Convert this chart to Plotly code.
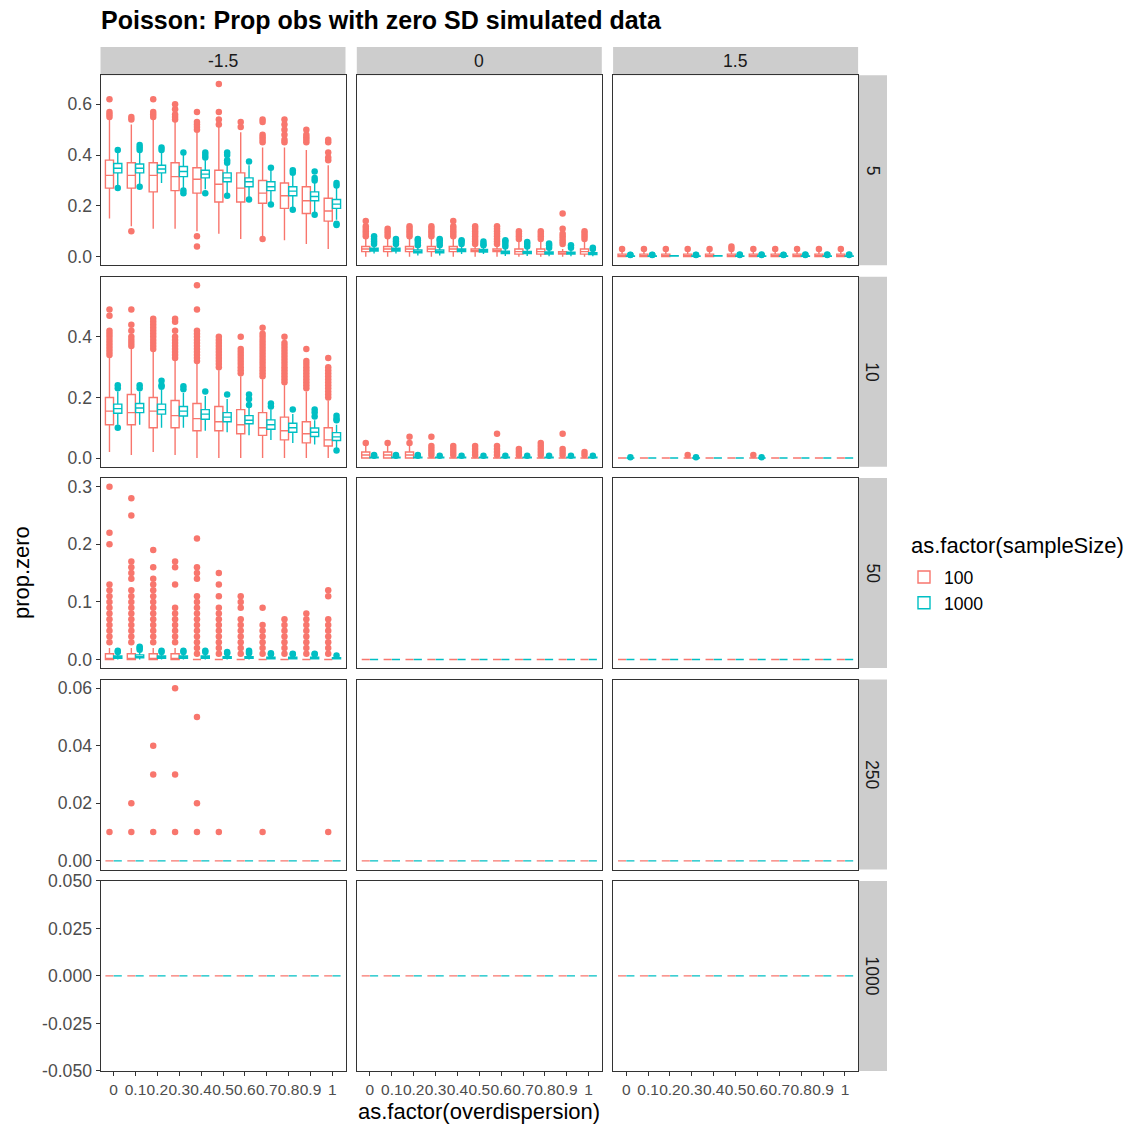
import plotly.graph_objects as go

# ---------------------------------------------------------------------------
# Factor levels
# ---------------------------------------------------------------------------
CATEGORIES = ["0", "0.1", "0.2", "0.3", "0.4", "0.5", "0.6", "0.7", "0.8", "0.9", "1"]
COL_LEVELS = ["-1.5", "0", "1.5"]
ROW_LEVELS = ["5", "10", "50", "250", "1000"]
GROUPS = ["100", "1000"]

# Box statistics per overdispersion level: (q1, median, q3, lower whisker, upper whisker)
# Outliers per overdispersion level as lists of prop.zero values.

# ---- row 5, column -1.5 ----
S5_NEG_100 = [
    (0.27, 0.32, 0.38, 0.15, 0.54),
    (0.27, 0.32, 0.37, 0.12, 0.52),
    (0.255, 0.32, 0.37, 0.11, 0.54),
    (0.26, 0.315, 0.37, 0.11, 0.53),
    (0.25, 0.305, 0.35, 0.10, 0.49),
    (0.215, 0.285, 0.34, 0.09, 0.51),
    (0.215, 0.27, 0.33, 0.07, 0.49),
    (0.21, 0.25, 0.30, 0.08, 0.43),
    (0.19, 0.24, 0.29, 0.065, 0.43),
    (0.17, 0.22, 0.275, 0.05, 0.42),
    (0.14, 0.18, 0.23, 0.03, 0.36),
]
O5_NEG_100 = [
    [0.55, 0.56, 0.57, 0.62],
    [0.10, 0.54, 0.55],
    [0.55, 0.56, 0.57, 0.62],
    [0.54, 0.55, 0.56, 0.58, 0.60],
    [0.04, 0.08, 0.50, 0.51, 0.52, 0.53, 0.57],
    [0.52, 0.54, 0.57, 0.68],
    [0.51, 0.53],
    [0.07, 0.45, 0.46, 0.47, 0.48, 0.53, 0.54],
    [0.45, 0.46, 0.48, 0.50, 0.52, 0.54],
    [0.45, 0.46, 0.47, 0.48, 0.50],
    [0.38, 0.39, 0.41, 0.45, 0.46],
]
S5_NEG_1000 = [
    (0.33, 0.348, 0.367, 0.28, 0.41),
    (0.33, 0.348, 0.365, 0.28, 0.41),
    (0.33, 0.345, 0.36, 0.29, 0.41),
    (0.315, 0.335, 0.355, 0.27, 0.40),
    (0.31, 0.325, 0.34, 0.265, 0.38),
    (0.295, 0.31, 0.33, 0.25, 0.36),
    (0.275, 0.295, 0.31, 0.235, 0.36),
    (0.26, 0.275, 0.295, 0.215, 0.34),
    (0.24, 0.258, 0.275, 0.19, 0.32),
    (0.22, 0.237, 0.255, 0.175, 0.29),
    (0.19, 0.207, 0.225, 0.145, 0.27),
]
O5_NEG_1000 = [
    [0.27, 0.42],
    [0.275, 0.42, 0.43, 0.44],
    [0.42, 0.43],
    [0.25, 0.26, 0.41],
    [0.25, 0.39, 0.40, 0.41],
    [0.24, 0.37, 0.38, 0.40, 0.41],
    [0.225, 0.375],
    [0.205, 0.35],
    [0.185, 0.33, 0.34],
    [0.165, 0.30, 0.31, 0.335],
    [0.125, 0.13, 0.28, 0.29],
]

# ---- row 5, column 0 ----
S5_MID_100 = [
    (0.02, 0.03, 0.04, 0.0, 0.07),
    (0.02, 0.03, 0.04, 0.0, 0.07),
    (0.02, 0.03, 0.04, 0.0, 0.07),
    (0.02, 0.03, 0.04, 0.0, 0.07),
    (0.02, 0.03, 0.04, 0.0, 0.07),
    (0.02, 0.02, 0.03, 0.0, 0.04),
    (0.02, 0.02, 0.03, 0.0, 0.04),
    (0.01, 0.02, 0.03, 0.0, 0.06),
    (0.01, 0.02, 0.03, 0.0, 0.06),
    (0.01, 0.01, 0.02, 0.0, 0.03),
    (0.01, 0.02, 0.03, 0.0, 0.06),
]
O5_MID_100 = [
    [0.08, 0.09, 0.10, 0.11, 0.12, 0.14],
    [0.08, 0.09, 0.10, 0.11],
    [0.08, 0.09, 0.10, 0.11, 0.12],
    [0.08, 0.09, 0.10, 0.11, 0.12],
    [0.08, 0.09, 0.10, 0.11, 0.12, 0.14],
    [0.05, 0.06, 0.07, 0.08, 0.09, 0.10, 0.11, 0.12],
    [0.05, 0.06, 0.07, 0.08, 0.09, 0.10, 0.11, 0.12],
    [0.07, 0.08, 0.09, 0.10],
    [0.07, 0.08, 0.09, 0.10],
    [0.05, 0.06, 0.07, 0.08, 0.09, 0.11, 0.17],
    [0.07, 0.08, 0.09, 0.10],
]
S5_MID_1000 = [
    (0.022, 0.027, 0.033, 0.012, 0.048),
    (0.022, 0.027, 0.033, 0.012, 0.048),
    (0.015, 0.020, 0.026, 0.005, 0.040),
    (0.015, 0.020, 0.026, 0.005, 0.040),
    (0.020, 0.025, 0.030, 0.010, 0.045),
    (0.018, 0.023, 0.028, 0.010, 0.040),
    (0.012, 0.017, 0.022, 0.003, 0.035),
    (0.012, 0.016, 0.021, 0.003, 0.034),
    (0.010, 0.014, 0.019, 0.002, 0.030),
    (0.010, 0.014, 0.018, 0.002, 0.030),
    (0.008, 0.012, 0.016, 0.002, 0.026),
]
O5_MID_1000 = [
    [0.05, 0.06, 0.07, 0.08],
    [0.05, 0.06, 0.07],
    [0.045, 0.055, 0.065, 0.07],
    [0.045, 0.055, 0.065, 0.07],
    [0.05, 0.06, 0.065],
    [0.045, 0.05, 0.06],
    [0.04, 0.05, 0.06, 0.065],
    [0.04, 0.05, 0.058],
    [0.035, 0.045, 0.052],
    [0.035, 0.045],
    [0.03, 0.035],
]

# ---- row 5, column 1.5 ----
S5_POS_100 = [
    (0.0, 0.0, 0.01, 0.0, 0.02),
    (0.0, 0.0, 0.01, 0.0, 0.02),
    (0.0, 0.0, 0.01, 0.0, 0.02),
    (0.0, 0.0, 0.01, 0.0, 0.02),
    (0.0, 0.0, 0.01, 0.0, 0.02),
    (0.0, 0.0, 0.01, 0.0, 0.02),
    (0.0, 0.0, 0.01, 0.0, 0.02),
    (0.0, 0.0, 0.01, 0.0, 0.02),
    (0.0, 0.0, 0.01, 0.0, 0.02),
    (0.0, 0.0, 0.01, 0.0, 0.02),
    (0.0, 0.0, 0.01, 0.0, 0.02),
]
O5_POS_100 = [[0.03], [0.03], [0.03], [0.03], [0.03], [0.03, 0.04],
              [0.03], [0.03], [0.03], [0.03], [0.03]]
S5_POS_1000 = [
    (0.001, 0.002, 0.003, 0.0, 0.006),
    (0.001, 0.002, 0.003, 0.0, 0.006),
    (0.002, 0.003, 0.004, 0.001, 0.005),
    (0.001, 0.002, 0.003, 0.0, 0.006),
    (0.002, 0.003, 0.004, 0.001, 0.005),
    (0.001, 0.002, 0.003, 0.0, 0.006),
    (0.001, 0.002, 0.003, 0.0, 0.006),
    (0.001, 0.002, 0.003, 0.0, 0.006),
    (0.001, 0.002, 0.003, 0.0, 0.006),
    (0.001, 0.002, 0.003, 0.0, 0.006),
    (0.001, 0.002, 0.003, 0.0, 0.006),
]
O5_POS_1000 = [[0.007, 0.008], [0.007, 0.008], [], [0.007, 0.008], [],
               [0.007, 0.009], [0.007, 0.009], [0.007, 0.008], [0.007, 0.009],
               [0.007, 0.009], [0.007, 0.009]]

# ---- row 10, column -1.5 ----
S10_NEG_100 = [
    (0.11, 0.155, 0.20, 0.02, 0.33),
    (0.11, 0.15, 0.21, 0.01, 0.36),
    (0.10, 0.155, 0.20, 0.02, 0.35),
    (0.10, 0.14, 0.19, 0.01, 0.32),
    (0.09, 0.13, 0.18, 0.00, 0.31),
    (0.09, 0.12, 0.17, 0.00, 0.29),
    (0.08, 0.11, 0.16, 0.00, 0.27),
    (0.075, 0.10, 0.15, 0.00, 0.26),
    (0.06, 0.09, 0.135, 0.00, 0.24),
    (0.05, 0.08, 0.12, 0.00, 0.22),
    (0.04, 0.06, 0.10, 0.00, 0.19),
]
O10_NEG_100 = [
    [0.34, 0.35, 0.36, 0.37, 0.38, 0.39, 0.40, 0.41, 0.42, 0.47, 0.49],
    [0.37, 0.38, 0.39, 0.40, 0.42, 0.44, 0.49],
    [0.36, 0.37, 0.38, 0.39, 0.40, 0.41, 0.42, 0.43, 0.44, 0.45, 0.46],
    [0.33, 0.34, 0.35, 0.36, 0.37, 0.38, 0.39, 0.40, 0.42, 0.45, 0.46],
    [0.32, 0.33, 0.34, 0.35, 0.36, 0.37, 0.38, 0.39, 0.40, 0.41, 0.42, 0.49, 0.57],
    [0.30, 0.31, 0.32, 0.33, 0.34, 0.35, 0.36, 0.37, 0.38, 0.39, 0.40],
    [0.28, 0.29, 0.30, 0.31, 0.32, 0.33, 0.34, 0.35, 0.36, 0.40],
    [0.27, 0.28, 0.29, 0.30, 0.31, 0.32, 0.33, 0.34, 0.35, 0.36, 0.37, 0.38,
     0.39, 0.40, 0.41, 0.43],
    [0.25, 0.26, 0.27, 0.28, 0.29, 0.30, 0.31, 0.32, 0.33, 0.34, 0.35, 0.36,
     0.37, 0.38, 0.40],
    [0.23, 0.24, 0.25, 0.26, 0.27, 0.28, 0.29, 0.30, 0.31, 0.32, 0.36],
    [0.20, 0.21, 0.22, 0.23, 0.24, 0.25, 0.26, 0.27, 0.28, 0.29, 0.30, 0.33],
]
S10_NEG_1000 = [
    (0.148, 0.163, 0.178, 0.11, 0.22),
    (0.15, 0.165, 0.18, 0.11, 0.22),
    (0.145, 0.16, 0.178, 0.10, 0.225),
    (0.139, 0.155, 0.17, 0.10, 0.215),
    (0.128, 0.145, 0.16, 0.09, 0.205),
    (0.12, 0.135, 0.15, 0.085, 0.195),
    (0.113, 0.125, 0.14, 0.075, 0.165),
    (0.095, 0.11, 0.126, 0.06, 0.16),
    (0.085, 0.10, 0.115, 0.05, 0.145),
    (0.071, 0.085, 0.099, 0.045, 0.125),
    (0.058, 0.07, 0.084, 0.03, 0.11),
]
O10_NEG_1000 = [
    [0.10, 0.23, 0.24],
    [0.23, 0.24],
    [0.235, 0.24, 0.255],
    [0.227, 0.237],
    [0.22],
    [0.21],
    [0.175, 0.195, 0.21],
    [0.17, 0.18],
    [0.16],
    [0.137, 0.15, 0.16],
    [0.025, 0.125, 0.13, 0.14],
]

# ---- row 10, column 0 ----
S10_MID_100 = [
    (0.0, 0.01, 0.02, 0.0, 0.04),
    (0.0, 0.01, 0.02, 0.0, 0.04),
    (0.0, 0.01, 0.02, 0.0, 0.04),
    (0.0, 0.0, 0.0, 0.0, 0.0),
    (0.0, 0.0, 0.0, 0.0, 0.0),
    (0.0, 0.0, 0.0, 0.0, 0.0),
    (0.0, 0.0, 0.0, 0.0, 0.0),
    (0.0, 0.0, 0.0, 0.0, 0.0),
    (0.0, 0.0, 0.0, 0.0, 0.0),
    (0.0, 0.0, 0.0, 0.0, 0.0),
    (0.0, 0.0, 0.0, 0.0, 0.0),
]
O10_MID_100 = [
    [0.05],
    [0.05],
    [0.05, 0.07],
    [0.01, 0.02, 0.03, 0.04, 0.07],
    [0.01, 0.02, 0.03, 0.04],
    [0.01, 0.02, 0.03, 0.04],
    [0.01, 0.02, 0.03, 0.04, 0.08],
    [0.01, 0.02, 0.03],
    [0.01, 0.02, 0.03, 0.04, 0.05],
    [0.01, 0.02, 0.03, 0.08],
    [0.01, 0.02],
]
S10_MID_1000 = [
    (0.001, 0.002, 0.003, 0.0, 0.006),
    (0.001, 0.002, 0.003, 0.0, 0.006),
    (0.001, 0.002, 0.003, 0.0, 0.006),
    (0.001, 0.002, 0.003, 0.0, 0.006),
    (0.001, 0.002, 0.003, 0.0, 0.006),
    (0.001, 0.002, 0.003, 0.0, 0.006),
    (0.001, 0.002, 0.003, 0.0, 0.006),
    (0.001, 0.002, 0.003, 0.0, 0.006),
    (0.001, 0.002, 0.003, 0.0, 0.006),
    (0.001, 0.002, 0.003, 0.0, 0.006),
    (0.001, 0.002, 0.003, 0.0, 0.006),
]
O10_MID_1000 = [[0.008, 0.01], [0.008, 0.01], [0.008, 0.01], [0.008], [0.008],
                [0.008], [0.008], [0.008], [0.008], [0.008], [0.008]]

# ---- row 10, column 1.5 ----
O10_POS_100 = [[], [], [], [0.01], [], [], [0.01], [], [], [], []]
O10_POS_1000 = [[0.003], [], [], [0.003], [], [], [0.003], [], [], [], []]

# ---- row 50, column -1.5 ----
S50_NEG_100 = [
    (0.0, 0.0, 0.01, 0.0, 0.02),
    (0.0, 0.0, 0.01, 0.0, 0.02),
    (0.0, 0.0, 0.01, 0.0, 0.02),
    (0.0, 0.0, 0.01, 0.0, 0.02),
    (0.0, 0.0, 0.0, 0.0, 0.0),
    (0.0, 0.0, 0.0, 0.0, 0.0),
    (0.0, 0.0, 0.0, 0.0, 0.0),
    (0.0, 0.0, 0.0, 0.0, 0.0),
    (0.0, 0.0, 0.0, 0.0, 0.0),
    (0.0, 0.0, 0.0, 0.0, 0.0),
    (0.0, 0.0, 0.0, 0.0, 0.0),
]
O50_NEG_100 = [
    [0.03, 0.04, 0.05, 0.06, 0.07, 0.08, 0.09, 0.10, 0.11, 0.12, 0.13, 0.20, 0.22, 0.30],
    [0.03, 0.04, 0.05, 0.06, 0.07, 0.08, 0.09, 0.10, 0.11, 0.12, 0.14, 0.15, 0.16,
     0.17, 0.25, 0.28],
    [0.03, 0.04, 0.05, 0.06, 0.07, 0.08, 0.09, 0.10, 0.11, 0.12, 0.13, 0.14, 0.16, 0.19],
    [0.03, 0.04, 0.05, 0.06, 0.07, 0.08, 0.09, 0.13, 0.16, 0.17],
    [0.01, 0.02, 0.03, 0.04, 0.05, 0.06, 0.07, 0.08, 0.09, 0.10, 0.11, 0.14, 0.15,
     0.16, 0.21],
    [0.01, 0.02, 0.03, 0.04, 0.05, 0.06, 0.07, 0.08, 0.09, 0.11, 0.13, 0.15],
    [0.01, 0.02, 0.03, 0.04, 0.05, 0.06, 0.07, 0.09, 0.10, 0.11],
    [0.01, 0.02, 0.03, 0.04, 0.05, 0.06, 0.09],
    [0.01, 0.02, 0.03, 0.04, 0.05, 0.06, 0.07],
    [0.01, 0.02, 0.03, 0.04, 0.05, 0.06, 0.07, 0.08],
    [0.01, 0.02, 0.03, 0.04, 0.05, 0.06, 0.07, 0.11, 0.12],
]
S50_NEG_1000 = [
    (0.002, 0.004, 0.006, 0.0, 0.012),
    (0.003, 0.005, 0.008, 0.0, 0.015),
    (0.002, 0.004, 0.006, 0.0, 0.012),
    (0.002, 0.004, 0.006, 0.0, 0.012),
    (0.002, 0.004, 0.006, 0.0, 0.012),
    (0.002, 0.003, 0.005, 0.0, 0.01),
    (0.002, 0.003, 0.005, 0.0, 0.01),
    (0.001, 0.002, 0.004, 0.0, 0.008),
    (0.001, 0.002, 0.004, 0.0, 0.008),
    (0.001, 0.002, 0.004, 0.0, 0.008),
    (0.001, 0.002, 0.003, 0.0, 0.006),
]
O50_NEG_1000 = [
    [0.013, 0.015],
    [0.017, 0.02, 0.022],
    [0.013, 0.015],
    [0.013, 0.015],
    [0.013, 0.015],
    [0.011, 0.013],
    [0.011, 0.013, 0.015],
    [0.009, 0.011],
    [0.009, 0.01],
    [0.009, 0.01],
    [0.007],
]

# ---- row 250, column -1.5 ----
O250_NEG_100 = [
    [0.01],
    [0.01, 0.02],
    [0.01, 0.03, 0.04],
    [0.01, 0.03, 0.06],
    [0.01, 0.02, 0.05],
    [0.01],
    [],
    [0.01],
    [],
    [],
    [0.01],
]

# ---- panels where every replicate sits at zero ----
ZERO_STATS = [
    (0.0, 0.0, 0.0, 0.0, 0.0), (0.0, 0.0, 0.0, 0.0, 0.0), (0.0, 0.0, 0.0, 0.0, 0.0),
    (0.0, 0.0, 0.0, 0.0, 0.0), (0.0, 0.0, 0.0, 0.0, 0.0), (0.0, 0.0, 0.0, 0.0, 0.0),
    (0.0, 0.0, 0.0, 0.0, 0.0), (0.0, 0.0, 0.0, 0.0, 0.0), (0.0, 0.0, 0.0, 0.0, 0.0),
    (0.0, 0.0, 0.0, 0.0, 0.0), (0.0, 0.0, 0.0, 0.0, 0.0),
]
NO_OUTLIERS = [[], [], [], [], [], [], [], [], [], [], []]

# Y-axis ticks per sampleSize row
Y_TICKS = {
    "5": ([0.0, 0.2, 0.4, 0.6], ["0.0", "0.2", "0.4", "0.6"]),
    "10": ([0.0, 0.2, 0.4], ["0.0", "0.2", "0.4"]),
    "50": ([0.0, 0.1, 0.2, 0.3], ["0.0", "0.1", "0.2", "0.3"]),
    "250": ([0.0, 0.02, 0.04, 0.06], ["0.00", "0.02", "0.04", "0.06"]),
    "1000": ([-0.05, -0.025, 0.0, 0.025, 0.05],
             ["-0.050", "-0.025", "0.000", "0.025", "0.050"]),
}

# (stats_100, outliers_100, stats_1000, outliers_1000) per facet
PANELS = {
    ("5", "-1.5"): (S5_NEG_100, O5_NEG_100, S5_NEG_1000, O5_NEG_1000),
    ("5", "0"): (S5_MID_100, O5_MID_100, S5_MID_1000, O5_MID_1000),
    ("5", "1.5"): (S5_POS_100, O5_POS_100, S5_POS_1000, O5_POS_1000),
    ("10", "-1.5"): (S10_NEG_100, O10_NEG_100, S10_NEG_1000, O10_NEG_1000),
    ("10", "0"): (S10_MID_100, O10_MID_100, S10_MID_1000, O10_MID_1000),
    ("10", "1.5"): (ZERO_STATS, O10_POS_100, ZERO_STATS, O10_POS_1000),
    ("50", "-1.5"): (S50_NEG_100, O50_NEG_100, S50_NEG_1000, O50_NEG_1000),
    ("50", "0"): (ZERO_STATS, NO_OUTLIERS, ZERO_STATS, NO_OUTLIERS),
    ("50", "1.5"): (ZERO_STATS, NO_OUTLIERS, ZERO_STATS, NO_OUTLIERS),
    ("250", "-1.5"): (ZERO_STATS, O250_NEG_100, ZERO_STATS, NO_OUTLIERS),
    ("250", "0"): (ZERO_STATS, NO_OUTLIERS, ZERO_STATS, NO_OUTLIERS),
    ("250", "1.5"): (ZERO_STATS, NO_OUTLIERS, ZERO_STATS, NO_OUTLIERS),
    ("1000", "-1.5"): (ZERO_STATS, NO_OUTLIERS, ZERO_STATS, NO_OUTLIERS),
    ("1000", "0"): (ZERO_STATS, NO_OUTLIERS, ZERO_STATS, NO_OUTLIERS),
    ("1000", "1.5"): (ZERO_STATS, NO_OUTLIERS, ZERO_STATS, NO_OUTLIERS),
}

# ---------------------------------------------------------------------------
# Styling / layout
# ---------------------------------------------------------------------------
W, H = 1128, 1126
FONT = "Liberation Sans, Arial, Helvetica, sans-serif"
COLORS = {"100": "#F8766D", "1000": "#00BFC4"}
DODGE = {"100": -0.19, "1000": 0.19}
BOX_W = 0.37
COL_PX = [(100.5, 345.5), (356.8, 601.8), (613.1, 858.1)]
ROW_PX = [(75.3, 265.3), (276.7, 466.7), (478.1, 668.1), (679.5, 869.5), (880.9, 1070.9)]
STRIP_TOP = (47.0, 75.3)
STRIP_RIGHT = (858.1, 887.0)
STRIP_FILL = "#CDCDCD"
TICK_SIZE = 17.6
XTICK_SIZE = 15.5
TITLE_SIZE = 22


def px_x(v):
    return v / W


def px_y(v):
    return 1 - v / H


fig = go.Figure()
layout = dict(
    width=W, height=H,
    margin=dict(l=0, r=0, t=0, b=0, autoexpand=False),
    paper_bgcolor="white", plot_bgcolor="white",
    font=dict(family=FONT, color="black"),
    boxmode="overlay",
    showlegend=True,
    shapes=[], annotations=[],
)

for r, row in enumerate(ROW_LEVELS):
    # free y scale per row: data range expanded by 5 %
    vals = []
    for col in COL_LEVELS:
        s100, o100, s1000, o1000 = PANELS[(row, col)]
        for stats, outs in ((s100, o100), (s1000, o1000)):
            for st in stats:
                vals.extend(st)
            for o in outs:
                vals.extend(o)
    lo, hi = min(vals), max(vals)
    span = hi - lo
    if span == 0:
        yrange = [lo - 0.05, hi + 0.05]
    else:
        yrange = [lo - 0.05 * span, hi + 0.05 * span]

    for c, col in enumerate(COL_LEVELS):
        k = r * 3 + c + 1
        sfx = "" if k == 1 else str(k)
        xref, yref = "x" + sfx, "y" + sfx
        s100, o100, s1000, o1000 = PANELS[(row, col)]
        for grp, stats, outs in (("100", s100, o100), ("1000", s1000, o1000)):
            xs = [i + DODGE[grp] for i in range(len(CATEGORIES))]
            fig.add_trace(go.Box(
                x=xs,
                q1=[s[0] for s in stats],
                median=[s[1] for s in stats],
                q3=[s[2] for s in stats],
                lowerfence=[s[3] for s in stats],
                upperfence=[s[4] for s in stats],
                orientation="v",
                width=BOX_W,
                boxpoints=False,
                whiskerwidth=0,
                fillcolor="white",
                line=dict(color=COLORS[grp], width=1.4),
                name=grp,
                legendgroup=grp,
                showlegend=(k == 1),
                hoverinfo="skip",
                xaxis=xref, yaxis=yref,
            ))
        for grp, outs in (("100", o100), ("1000", o1000)):
            ox, oy = [], []
            for i, o in enumerate(outs):
                for v in o:
                    ox.append(i + DODGE[grp])
                    oy.append(v)
            if oy:
                fig.add_trace(go.Scatter(
                    x=ox, y=oy, mode="markers",
                    marker=dict(color=COLORS[grp], size=6.5, line=dict(width=0)),
                    showlegend=False, hoverinfo="skip",
                    xaxis=xref, yaxis=yref,
                ))

        x0, x1 = COL_PX[c]
        y0, y1 = ROW_PX[r]
        bottom = r == len(ROW_LEVELS) - 1
        left = c == 0
        layout["xaxis" + sfx] = dict(
            domain=[px_x(x0), px_x(x1)], anchor=yref,
            range=[-0.6, len(CATEGORIES) - 0.4],
            tickmode="array", tickvals=list(range(len(CATEGORIES))), ticktext=CATEGORIES,
            tickangle=0, automargin=False,
            showticklabels=bottom, ticks="outside" if bottom else "",
            ticklen=4, tickwidth=1, tickcolor="#333333",
            tickfont=dict(size=XTICK_SIZE, color="#4D4D4D", family=FONT),
            showgrid=False, zeroline=False,
            showline=True, linecolor="#333333", linewidth=1, mirror=True,
            fixedrange=True,
        )
        tv, tt = Y_TICKS[row]
        layout["yaxis" + sfx] = dict(
            domain=[px_y(y1), px_y(y0)], anchor=xref,
            range=yrange, automargin=False,
            tickmode="array", tickvals=tv, ticktext=tt,
            showticklabels=left, ticks="outside" if left else "",
            ticklen=4, tickwidth=1, tickcolor="#333333",
            tickfont=dict(size=TICK_SIZE, color="#4D4D4D", family=FONT),
            showgrid=False, zeroline=False,
            showline=True, linecolor="#333333", linewidth=1, mirror=True,
            fixedrange=True,
        )

# column strips
for c, col in enumerate(COL_LEVELS):
    x0, x1 = COL_PX[c]
    layout["shapes"].append(dict(
        type="rect", xref="paper", yref="paper",
        x0=px_x(x0), x1=px_x(x1), y0=px_y(STRIP_TOP[1]), y1=px_y(STRIP_TOP[0]),
        fillcolor=STRIP_FILL, line=dict(width=0), layer="below",
    ))
    layout["annotations"].append(dict(
        text=col, xref="paper", yref="paper",
        x=px_x((x0 + x1) / 2), y=px_y((STRIP_TOP[0] + STRIP_TOP[1]) / 2),
        xanchor="center", yanchor="middle", showarrow=False,
        font=dict(size=TICK_SIZE, color="#1A1A1A", family=FONT),
    ))

# row strips
for r, row in enumerate(ROW_LEVELS):
    y0, y1 = ROW_PX[r]
    layout["shapes"].append(dict(
        type="rect", xref="paper", yref="paper",
        x0=px_x(STRIP_RIGHT[0]), x1=px_x(STRIP_RIGHT[1]), y0=px_y(y1), y1=px_y(y0),
        fillcolor=STRIP_FILL, line=dict(width=0), layer="below",
    ))
    layout["annotations"].append(dict(
        text=row, xref="paper", yref="paper",
        x=px_x((STRIP_RIGHT[0] + STRIP_RIGHT[1]) / 2), y=px_y((y0 + y1) / 2),
        xanchor="center", yanchor="middle", showarrow=False, textangle=90,
        font=dict(size=TICK_SIZE, color="#1A1A1A", family=FONT),
    ))

# titles
layout["annotations"].append(dict(
    text="<b>Poisson: Prop obs with zero SD simulated data</b>",
    xref="paper", yref="paper", x=px_x(99), y=px_y(20),
    xanchor="left", yanchor="middle", showarrow=False,
    font=dict(size=25, color="black", family=FONT),
))
layout["annotations"].append(dict(
    text="as.factor(overdispersion)", xref="paper", yref="paper",
    x=px_x((COL_PX[0][0] + COL_PX[2][1]) / 2), y=px_y(1111),
    xanchor="center", yanchor="middle", showarrow=False,
    font=dict(size=TITLE_SIZE, color="black", family=FONT),
))
layout["annotations"].append(dict(
    text="prop.zero", xref="paper", yref="paper",
    x=px_x(21), y=px_y((ROW_PX[0][0] + ROW_PX[-1][1]) / 2),
    xanchor="center", yanchor="middle", showarrow=False, textangle=-90,
    font=dict(size=TITLE_SIZE, color="black", family=FONT),
))
# legend heading
layout["annotations"].append(dict(
    text="as.factor(sampleSize)", xref="paper", yref="paper",
    x=px_x(909), y=px_y(545),
    xanchor="left", yanchor="middle", showarrow=False,
    font=dict(size=TITLE_SIZE, color="black", family=FONT),
))

layout["legend"] = dict(
    font=dict(size=TICK_SIZE, family=FONT),
    x=px_x(904), y=px_y(559), xanchor="left", yanchor="top",
    bgcolor="rgba(0,0,0,0)", itemwidth=30, tracegroupgap=0,
)

fig.update_layout(**layout)
fig.write_html("out.html")
